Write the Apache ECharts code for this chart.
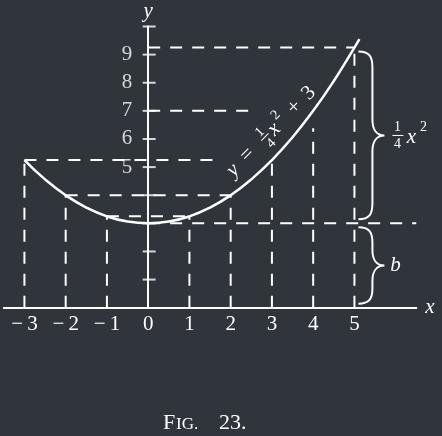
<!DOCTYPE html>
<html><head><meta charset="utf-8">
<script src="https://cdn.jsdelivr.net/npm/echarts@6/dist/echarts.min.js"></script>
<style>html,body{margin:0;padding:0;background:#2f353b}#c{width:442px;height:436px}</style>
</head><body><div id="c"></div>
<script>
// ---- data ----
const xTickValues = [-3, -2, -1, 0, 1, 2, 3, 4, 5];
const yTickValues = [1, 2, 3, 4, 5, 6, 7, 8, 9, 10];
const yLabelValues = [5, 6, 7, 8, 9];
const curveX = [-3, -2.5, -2, -1.5, -1, -0.5, 0, 0.5, 1, 1.5, 2, 2.5, 3, 3.5, 4, 4.5, 5, 5.12];
const curveY = [5.25, 4.5625, 4, 3.5625, 3.25, 3.0625, 3, 3.0625, 3.25, 3.5625, 4, 4.5625, 5.25, 6.0625, 7, 8.0625, 9.25, 9.55];
const hDashY    = [9.25, 7, 5.25, 4, 3.25, 3];
const hDashFrom = [0, 0, -3, -2, -1, 0];
const hDashTo   = [5, 2.65, 1.6, 2, 1, 6.5];
const vDashX    = [-3, -2, -1, 1, 2, 3, 4, 5];
const vDashTop  = [5.25, 4, 3.25, 3.25, 4, 5.25, 6.38, 9.25];
const braceX      = [5, 5];
const braceTop    = [9.25, 3];
const braceBottom = [3, 0];
const curveLabelAnchor = [2.83, 6.07];

const W = '#ffffff';
const FF = '"Liberation Serif", "DejaVu Serif", serif';
const chart = echarts.init(document.getElementById('c'));

const series = [];
hDashY.forEach((y, i) => {
  series.push({type: 'line', data: [[hDashFrom[i], y], [hDashTo[i], y]], symbol: 'none', silent: true,
    lineStyle: {color: W, width: 2, type: [12, 10]}, z: 2});
});
vDashX.forEach((x, i) => {
  series.push({type: 'line', data: [[x, 0], [x, vDashTop[i]]], symbol: 'none', silent: true,
    lineStyle: {color: W, width: 2, type: [12, 10]}, z: 2});
});
series.push({type: 'line', data: curveX.map((x, i) => [x, curveY[i]]), smooth: true, symbol: 'none',
  silent: true, lineStyle: {color: W, width: 2.5}, z: 5});
series.push({type: 'scatter', data: yTickValues.map(v => [0, v]), symbol: 'rect', symbolSize: [13, 2],
  symbolOffset: [1, 0], itemStyle: {color: W}, silent: true, z: 6});
series.push({type: 'scatter', data: yLabelValues.map(v => [0, v]), symbolSize: 0, silent: true, z: 6,
  label: {show: true, position: 'left', distance: 16, color: W, fontFamily: FF, fontSize: 21,
    formatter: p => String(p.value[1])}});

const txt = (x, y, s, size, italic, align, va) => ({type: 'text', x: x, y: y,
  style: {text: s, font: (italic ? 'italic ' : '') + size + 'px ' + FF, fill: W,
    align: align || 'center', verticalAlign: va || 'middle'}});

series.push({type: 'custom', silent: true, z: 7,
  data: braceX.map((x, i) => [x, braceTop[i], braceBottom[i]]),
  renderItem(params, api) {
    const p1 = api.coord([api.value(0), api.value(1)]);
    const p2 = api.coord([api.value(0), api.value(2)]);
    const x0 = p1[0] + 4, y1 = p1[1] + 4, y2 = p2[1] - 4, ym = (y1 + y2) / 2;
    const xm = x0 + 14, xt = x0 + 26;
    const r = Math.min(16, (y2 - y1) / 5);
    const d = `M${x0} ${y1} C${xm - 3} ${y1} ${xm} ${y1 + 5} ${xm} ${y1 + r} L${xm} ${ym - r} ` +
      `C${xm} ${ym - 5} ${xm + 5} ${ym} ${xt} ${ym} C${xm + 5} ${ym} ${xm} ${ym + 5} ${xm} ${ym + r} ` +
      `L${xm} ${y2 - r} C${xm} ${y2 - 5} ${xm - 3} ${y2} ${x0} ${y2}`;
    const ch = [{type: 'path', shape: {pathData: d}, style: {fill: 'none', stroke: W, lineWidth: 2}}];
    if (params.dataIndex === 0) {
      ch.push(txt(xt + 13, ym - 8, '1', 14, false));
      ch.push({type: 'line', shape: {x1: xt + 8, y1: ym, x2: xt + 19, y2: ym}, style: {stroke: W, lineWidth: 1}});
      ch.push(txt(xt + 13, ym + 9, '4', 14, false));
      ch.push(txt(xt + 27, ym + 2, 'x', 21, true));
      ch.push(txt(xt + 39, ym - 8, '2', 14, false));
    } else {
      ch.push(txt(xt + 11, ym, 'b', 21, true));
    }
    return {type: 'group', children: ch};
  }
});

series.push({type: 'custom', silent: true, z: 7, data: [curveLabelAnchor],
  renderItem(params, api) {
    const p = api.coord([api.value(0), api.value(1)]);
    return {type: 'group', x: p[0], y: p[1], rotation: Math.PI / 4, children: [
      txt(-46, 1, 'y', 21, true),
      txt(-25, 0, '=', 21, false),
      txt(0, -7, '1', 14, false),
      {type: 'line', shape: {x1: -5, y1: 0, x2: 5, y2: 0}, style: {stroke: W, lineWidth: 1}},
      txt(0, 9, '4', 14, false),
      txt(12, 1, 'x', 21, true),
      txt(23, -8, '2', 14, false),
      txt(42, 0, '+', 21, false),
      txt(62, 0, '3', 21, false)
    ]};
  }
});

chart.setOption({
  backgroundColor: '#2f353b',
  animation: false,
  grid: {left: 3.8, right: 25.7, top: 26.5, bottom: 128.3, containLabel: false, outerBoundsMode: 'none'},
  xAxis: {type: 'value', min: -3.5, max: 6.5, interval: 0.5,
    axisLine: {onZero: true, lineStyle: {color: W, width: 2}},
    axisTick: {show: false}, splitLine: {show: false},
    axisLabel: {color: W, fontFamily: FF, fontSize: 21, margin: 6, showMinLabel: true, showMaxLabel: true,
      formatter: v => xTickValues.includes(v) ? (v < 0 ? '\u2212\u2009' + Math.abs(v) : String(v)) : ''},
    name: 'x', nameLocation: 'end', nameGap: 9,
    nameTextStyle: {color: W, fontFamily: FF, fontStyle: 'italic', fontSize: 21}},
  yAxis: {type: 'value', min: 0, max: 10, interval: 1,
    axisLine: {onZero: true, lineStyle: {color: W, width: 2}},
    axisTick: {show: false}, splitLine: {show: false},
    axisLabel: {show: false},
    name: 'y', nameLocation: 'end', nameGap: 5,
    nameTextStyle: {color: W, fontFamily: FF, fontStyle: 'italic', fontSize: 21}},
  graphic: [
    {type: 'text', left: 163, top: 412, style: {text: 'F', font: '22px ' + FF, fill: W}},
    {type: 'text', left: 176, top: 416, style: {text: 'IG.', font: '17px ' + FF, fill: W}},
    {type: 'text', left: 219, top: 412, style: {text: '23.', font: '22px ' + FF, fill: W}}
  ],
  series: series
});
</script></body></html>
